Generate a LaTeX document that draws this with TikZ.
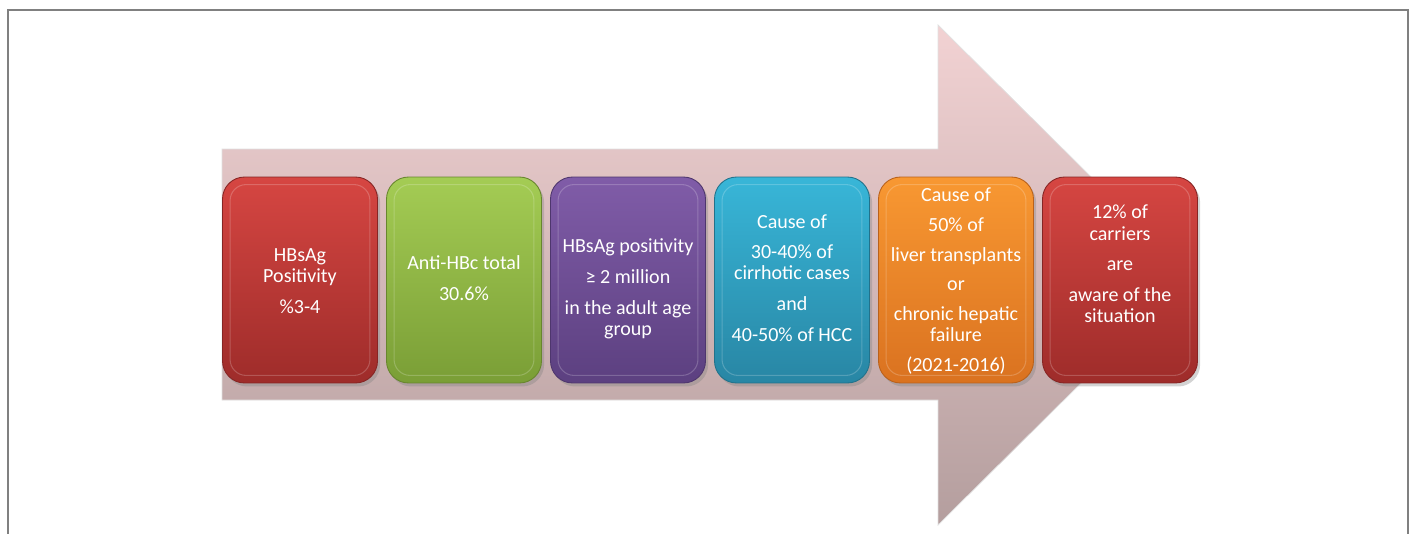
\documentclass[tikz,border=0pt]{standalone}
\usepackage{fontspec}
\setmainfont{Carlito}
\usetikzlibrary{shadows}

\definecolor{arrowtop}{RGB}{242,210,211}
\definecolor{arrowbot}{RGB}{180,158,158}
\definecolor{redT}{RGB}{214,70,66}
\definecolor{redB}{RGB}{158,44,42}
\definecolor{greenT}{RGB}{164,204,84}
\definecolor{greenB}{RGB}{122,158,54}
\definecolor{purpleT}{RGB}{128,92,168}
\definecolor{purpleB}{RGB}{92,64,128}
\definecolor{blueT}{RGB}{56,182,216}
\definecolor{blueB}{RGB}{40,134,164}
\definecolor{orangeT}{RGB}{248,152,50}
\definecolor{orangeB}{RGB}{218,114,32}

\begin{document}
\begin{tikzpicture}[x=0.02cm, y=-0.02cm,
    card/.style={rounded corners=0.44cm, minimum width=3.1cm, minimum height=4.12cm,
      line width=0.5pt, drop shadow={opacity=0.35, shadow xshift=1.5pt, shadow yshift=-2pt}},
    cardtext/.style={text=white, align=center, inner sep=0pt,
      font=\fontsize{11.4}{12}\selectfont}]
  \useasboundingbox (0,0) rectangle (1410,534);

  \draw[black!50, line width=0.8pt] (8,534) -- (8,10) -- (1408,10) -- (1408,534);

  \shade[top color=arrowtop, bottom color=arrowbot, draw=black!12, line width=0.4pt]
    (222,149) -- (938,149) -- (938,25) -- (1190,275) -- (938,525) -- (938,400) -- (222,400) -- cycle;

  \foreach \i/\top/\bot/\ty/\txt in {
      1/redT/redB/281/{HBsAg\\Positivity\\[5.5pt]\%3-4},
      2/greenT/greenB/278/{Anti-HBc total\\[5.5pt]30.6\%},
      3/purpleT/purpleB/289/{HBsAg positivity\\[5.5pt]≥ 2 million\\[5.5pt]in the adult age\\group},
      4/blueT/blueB/278/{Cause of\\[5.5pt]30-40\% of\\cirrhotic cases\\[5.5pt]and\\[5.5pt]40-50\% of HCC},
      5/orangeT/orangeB/281/{Cause of\\[5pt]50\% of\\[5pt]liver transplants\\[5pt]or\\[5pt]chronic hepatic\\failure\\[5pt](2021-2016)},
      6/redT/redB/264/{12\% of\\carriers\\[5.5pt]are\\[5.5pt]aware of the\\situation}} {
    \pgfmathsetmacro{\x}{300+164*(\i-1)}

    \node[card, top color=\top, bottom color=\bot, draw=\bot!85!black] (b\i) at (\x,280) {};
    \draw[white, opacity=0.2, line width=0.6pt, rounded corners=0.32cm]
      ([shift={(8,8)}]b\i.north west) rectangle ([shift={(-8,-8)}]b\i.south east);
    \node[cardtext] (t\i) at (\x,\ty) {\txt};
  }
\end{tikzpicture}
\end{document}
